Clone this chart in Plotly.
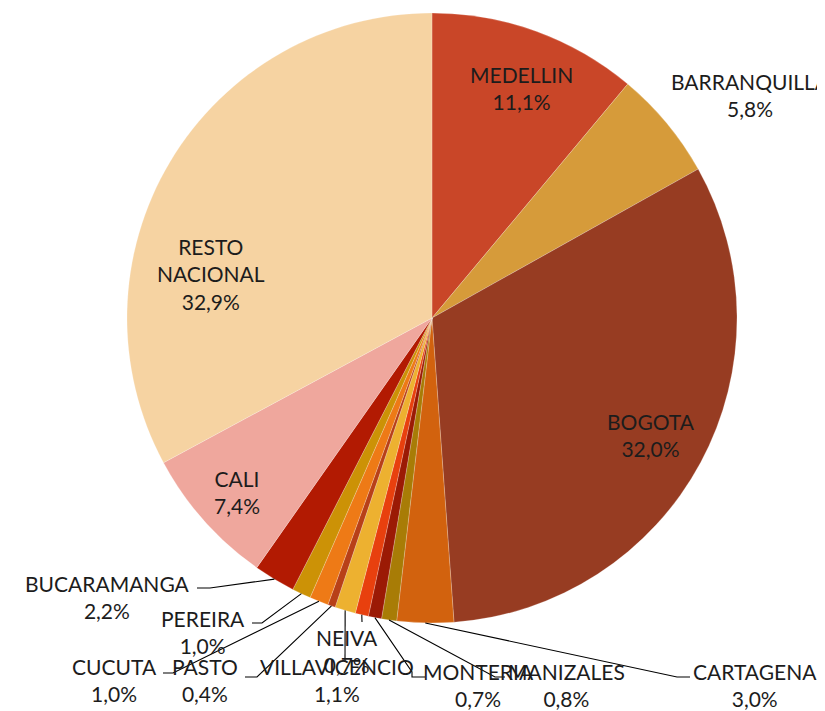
import math
import plotly.graph_objects as go

# Datos
ciudades = ["MEDELLIN", "BARRANQUILLA", "BOGOTA", "CARTAGENA", "MANIZALES", "MONTERIA",
            "NEIVA", "VILLAVICENCIO", "PASTO", "CUCUTA", "PEREIRA", "BUCARAMANGA",
            "CALI", "RESTO<br>NACIONAL"]
porcentajes = [11.1, 5.8, 32.0, 3.0, 0.8, 0.7, 0.7, 1.1, 0.4, 1.0, 1.0, 2.2, 7.4, 32.9]
colores = ["#C94628", "#D69B3A", "#973C22", "#D2620E", "#A87C06", "#9B1A05", "#E8400E",
           "#EDB130", "#B84018", "#EE7A16", "#CC9206", "#B21A02", "#EFA79D", "#F6D3A2"]

W, H = 825, 711
OFF = 8  # margen del body de la pagina
CX, CY, R = 432, 318, 305  # centro y radio del pie en pixeles de la ventana

# Posicion de cada etiqueta (centro) y, si tiene, puntos de la linea guia
etiquetas = {
    "MEDELLIN": (521, 88, None),
    "BARRANQUILLA": (750, 95, None),
    "BOGOTA": (651, 435, None),
    "CARTAGENA": (755, 685, [(677, 677), (690, 677)]),
    "MANIZALES": (566, 685, [(495, 677), (505, 677)]),
    "MONTERIA": (478, 685, [(412, 672), (412, 677), (425, 677)]),
    "NEIVA": (347, 651, [(362, 622)]),
    "VILLAVICENCIO": (337, 680, [(345, 662)]),
    "PASTO": (205, 680, [(257, 677), (245, 677)]),
    "CUCUTA": (114, 680, [(173, 673), (163, 673)]),
    "PEREIRA": (203, 632, [(262, 623), (252, 623)]),
    "BUCARAMANGA": (107, 597, [(210, 588), (197, 588)]),
    "CALI": (237, 492, None),
    "RESTO<br>NACIONAL": (211, 274, None),
}


def px2paper(x, y):
    return (x - OFF) / W, 1 - (y - OFF) / H


x0, y1 = px2paper(CX - R, CY - R)
x1, y0 = px2paper(CX + R, CY + R)

fig = go.Figure(go.Pie(
    labels=ciudades,
    values=porcentajes,
    marker=dict(colors=colores, line=dict(color="rgba(255,255,255,0.35)", width=0.6)),
    sort=False,
    direction="clockwise",
    rotation=0,
    textinfo="none",
    hoverinfo="label+percent",
    domain=dict(x=[x0, x1], y=[y0, y1]),
    showlegend=False,
))

total = sum(porcentajes)
acum = 0
anotaciones = []
formas = []
for nombre, val in zip(ciudades, porcentajes):
    medio = (acum + val / 2) / total * 2 * math.pi
    acum += val
    lx, ly, guia = etiquetas[nombre]
    texto = nombre + "<br>" + f"{val:.1f}".replace(".", ",") + "%"
    ax, ay = px2paper(lx, ly)
    anotaciones.append(dict(x=ax, y=ay, xref="paper", yref="paper", text=texto,
                            showarrow=False, xanchor="center", yanchor="middle",
                            font=dict(size=21, color="#1c1c1c")))
    if guia:
        puntos = [(CX + R * math.sin(medio), CY - R * math.cos(medio))] + guia
        ruta = "M " + " L ".join(f"{px2paper(x, y)[0]},{px2paper(x, y)[1]}" for x, y in puntos)
        formas.append(dict(type="path", path=ruta, xref="paper", yref="paper",
                           line=dict(color="black", width=1.1)))

fig.update_layout(
    width=W, height=H,
    margin=dict(l=0, r=0, t=0, b=0),
    paper_bgcolor="white",
    plot_bgcolor="white",
    font=dict(family="Century Gothic, Lato, sans-serif"),
    annotations=anotaciones,
    shapes=formas,
)

fig.write_html("out.html")
